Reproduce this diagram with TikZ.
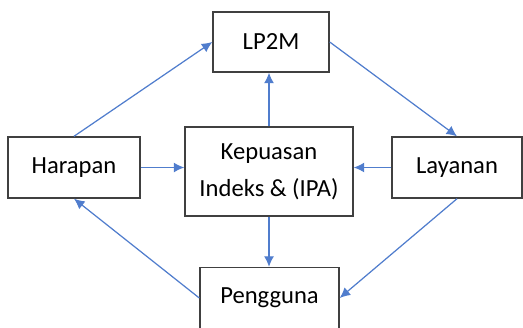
\documentclass[tikz,border=0pt]{standalone}
\usepackage{fontspec}
\setmainfont{Carlito}
\usetikzlibrary{arrows.meta}

\begin{document}
\begin{tikzpicture}[
  box/.style={draw=black!75, line width=0.8pt, align=center, inner sep=0pt,
    font=\fontsize{14}{21}\selectfont},
  link/.style={draw={rgb,255:red,80;green,125;blue,205}, line width=0.7pt,
    -{Latex[length=2.1mm,width=2mm]}}
]
\useasboundingbox (0,0) rectangle (10.46,6.54);
%\draw [lightgray, ultra thin] (0,0) grid (10,6);

\node [box, minimum width=2.32cm, minimum height=1.2cm] (lp) at (5.42,5.70) {LP2M};
\node [box, minimum width=2.64cm, minimum height=1.22cm] (harapan) at (1.48,3.19) {Harapan};
\node [box, minimum width=3.36cm, minimum height=1.78cm] (kepuasan) at (5.38,3.11) {Kepuasan\\Indeks \& (IPA)};
\node [box, minimum width=2.6cm, minimum height=1.22cm] (layanan) at (9.14,3.19) {Layanan};
\node [box, minimum width=2.78cm, minimum height=1.22cm] (pengguna) at (5.39,0.58) {Pengguna};

\draw [link] (harapan.north) -- (lp.west);
\draw [link] (lp.east) -- (layanan.north);
\draw [link] (kepuasan.north) -- (kepuasan.north |- lp.south);
\draw [link] (harapan.east) -- (harapan.east -| kepuasan.west);
\draw [link] (layanan.west) -- (layanan.west -| kepuasan.east);
\draw [link] (kepuasan.south) -- (kepuasan.south |- pengguna.north);
\draw [link] (layanan.south) -- (pengguna.east);
\draw [link] (pengguna.west) -- (harapan.south);
\end{tikzpicture}
\end{document}
